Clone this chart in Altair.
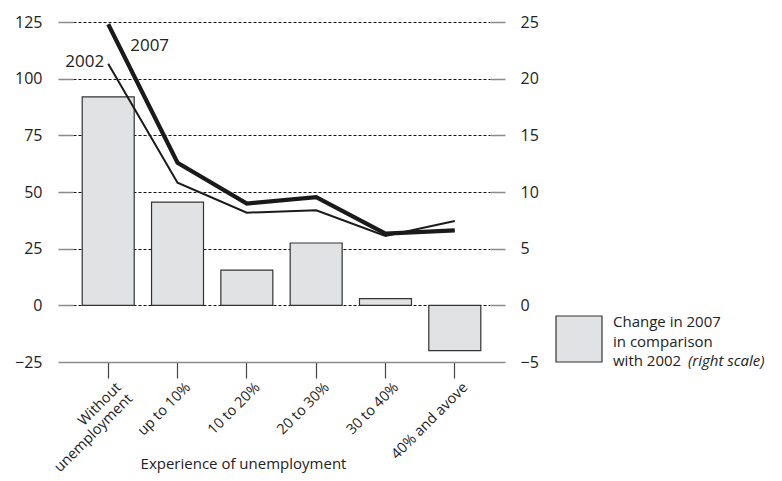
import altair as alt
import pandas as pd

categories = ["Without|unemployment", "up to 10%", "10 to 20%", "20 to 30%", "30  to 40%", "40% and avove"]
change_2007_vs_2002 = [18.4, 9.1, 3.1, 5.5, 0.6, -4.0]
values_2007 = [124.0, 62.9, 44.9, 47.7, 31.6, 33.1]
values_2002 = [106.6, 54.1, 40.9, 41.9, 30.6, 37.2]
left_ticks = [-25, 0, 25, 50, 75, 100, 125]
right_ticks = [-5, 0, 5, 10, 15, 20, 25]

FONT = "Open Sans"
TXT = "#222222"

df = pd.DataFrame({
    "cat": categories,
    "change": change_2007_vs_2002,
    "2007": values_2007,
    "2002": values_2002,
})

xscale = alt.Scale(paddingInner=0.25, paddingOuter=0.133)

xenc = alt.X(
    "cat:N", sort=categories, scale=xscale,
    axis=alt.Axis(
        title="Experience of unemployment", labelAngle=-45, labelAlign="right", labelBaseline="top",
        labelExpr="split(datum.label, '|')", labelFontSize=14.5, labelColor=TXT, labelFont=FONT,
        labelPadding=2, labelOffset=6, labelLineHeight=16,
        tickSize=16, tickColor="#444444", tickWidth=1.2,
        domain=True, domainColor="#8a8a8a", domainWidth=1.5,
        titleFont=FONT, titleFontSize=15, titleFontWeight="normal", titleColor=TXT,
        titleX=170, titleY=101, titleBaseline="middle", titleAlign="center", titleAnchor="start",
    ),
)

left_axis = alt.Axis(orient="left", values=left_ticks, title=None, domain=False,
                     grid=True, gridDash=[3, 2], gridColor="#111111", gridWidth=1,
                     tickSize=15, tickColor="#8a8a8a", tickWidth=1.5, labelPadding=16,
                     labelFontSize=16, labelFont=FONT, labelColor=TXT)

bars = alt.Chart(df).mark_bar(fill="#e1e2e4", stroke="#333333", strokeWidth=1.2).encode(
    x=xenc,
    y=alt.Y("change:Q", scale=alt.Scale(domain=[-5, 25], nice=False, zero=False),
            axis=alt.Axis(orient="right", values=right_ticks, title=None, grid=False, domain=False,
                          tickSize=15, tickColor="#8a8a8a", tickWidth=1.5, labelPadding=15,
                          labelFontSize=16, labelFont=FONT, labelColor=TXT)),
)

base = alt.Chart(df).transform_fold(["2007", "2002"], as_=["year", "value"])
yline = alt.Y("value:Q", scale=alt.Scale(domain=[-25, 125], nice=False, zero=False), axis=left_axis)

lines = base.mark_line(color="#1a1a1a").encode(
    x=alt.X("cat:N", sort=categories),
    y=yline,
    strokeWidth=alt.StrokeWidth("year:N", scale=alt.Scale(domain=["2002", "2007"], range=[2, 4.2]), legend=None),
    detail="year:N",
)

first_cat = categories[0]
lab2002 = base.transform_filter(
    (alt.datum.year == "2002") & (alt.datum.cat == first_cat)
).mark_text(text="2002", align="right", baseline="middle", dx=-4, dy=-2,
            font=FONT, fontSize=17, color=TXT).encode(x=alt.X("cat:N", sort=categories), y=yline)
lab2007 = base.transform_filter(
    (alt.datum.year == "2007") & (alt.datum.cat == first_cat)
).mark_text(text="2007", align="left", baseline="middle", dx=22, dy=22,
            font=FONT, fontSize=17, color=TXT).encode(x=alt.X("cat:N", sort=categories), y=yline)

line_layer = alt.layer(lines, lab2002, lab2007)

leg_data = alt.Data(values=[{"a": 1}])
leg_box = alt.Chart(leg_data).mark_rect(fill="#e1e2e4", stroke="#333333", strokeWidth=1.2).encode(
    x=alt.value(483), x2=alt.value(529), y=alt.value(294), y2=alt.value(340))


def leg_text(txt, x, y, italic=False):
    return alt.Chart(leg_data).mark_text(
        text=txt, align="left", baseline="middle", font=FONT, fontSize=15, color=TXT,
        fontStyle="italic" if italic else "normal").encode(x=alt.value(x), y=alt.value(y))


leg_layers = [
    leg_box,
    leg_text("Change in 2007", 540, 300),
    leg_text("in comparison", 540, 319.5),
    leg_text("with 2002", 540, 339),
    leg_text("(right scale)", 615, 339, italic=True),
]

chart = alt.layer(bars, line_layer, *leg_layers).resolve_scale(y="independent").properties(
    width=417, height=340, autosize=alt.AutoSizeParams(type="none"),
    padding={"left": 65, "top": 14, "right": 284, "bottom": 111},
).configure(background="white").configure_view(stroke="transparent", strokeWidth=0).configure_axis(domain=False)

chart.save("out.html", embed_options={"renderer": "svg", "actions": False})
